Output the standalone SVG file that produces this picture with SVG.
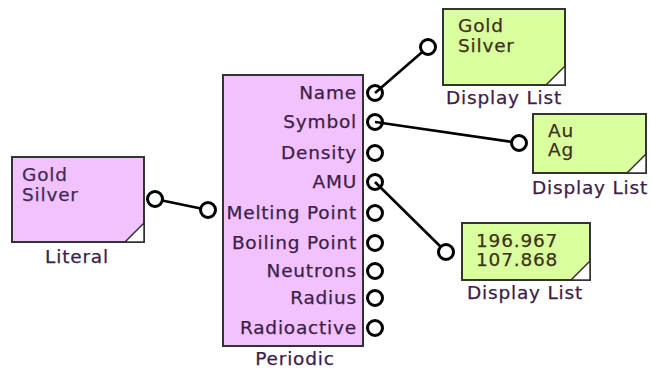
<svg xmlns="http://www.w3.org/2000/svg" width="651" height="368" viewBox="0 0 651 368">
<style>
text{font-family:"DejaVu Sans",Verdana,sans-serif;font-size:18.5px;letter-spacing:0.8px;fill:#3c2048;stroke:#3c2048;stroke-width:0.25}
.pink{fill:#f2c2ff;stroke:#333;stroke-width:2}
.green{fill:#d9ff9f;stroke:#333;stroke-width:2}
.fold{fill:#fff;stroke:#333;stroke-width:1.5}
.port{fill:#fff;stroke:#000;stroke-width:3}
.wire{stroke:#000;stroke-width:2.6;fill:none}
.r{text-anchor:end}
.c{text-anchor:middle}
.in{fill:#403018;stroke:#403018}
.lin{fill:#402a58;stroke:#402a58}
</style>
<g id="connectors">
<line class="wire" x1="155" y1="199" x2="208" y2="210"/>
<line class="wire" x1="375" y1="93" x2="428" y2="47"/>
<line class="wire" x1="375" y1="122" x2="519" y2="143"/>
<line class="wire" x1="375" y1="182" x2="446" y2="252"/>
</g>
<g id="literal">
<rect class="pink" x="12" y="157" width="132" height="85"/>
<path class="fold" d="M125 242 L144 242 L144 223 Z"/>
<text x="22" y="181" class="lin">Gold</text>
<text x="22" y="201" class="lin">Silver</text>
<text x="77" y="263" class="c">Literal</text>
<circle class="port" cx="155" cy="199" r="7.5"/>
</g>
<g id="periodic">
<rect class="pink" x="223" y="75" width="140" height="271"/>
<circle class="port" cx="208" cy="210" r="7.5"/>
<text x="357" y="99" class="r">Name</text>
<text x="357" y="128" class="r">Symbol</text>
<text x="357" y="159" class="r">Density</text>
<text x="357" y="188" class="r">AMU</text>
<text x="357" y="219" class="r">Melting Point</text>
<text x="357" y="249" class="r">Boiling Point</text>
<text x="357" y="277" class="r">Neutrons</text>
<text x="357" y="304" class="r">Radius</text>
<text x="357" y="334" class="r">Radioactive</text>
<circle class="port" cx="375" cy="93" r="7.5"/>
<circle class="port" cx="375" cy="122" r="7.5"/>
<circle class="port" cx="375" cy="153" r="7.5"/>
<circle class="port" cx="375" cy="182" r="7.5"/>
<circle class="port" cx="375" cy="213" r="7.5"/>
<circle class="port" cx="375" cy="243" r="7.5"/>
<circle class="port" cx="375" cy="271" r="7.5"/>
<circle class="port" cx="375" cy="298" r="7.5"/>
<circle class="port" cx="375" cy="328" r="7.5"/>
<line class="wire" x1="375" y1="93" x2="382" y2="87"/>
<line class="wire" x1="375" y1="122" x2="383" y2="123"/>
<line class="wire" x1="375" y1="182" x2="381" y2="188"/>
<text x="295" y="365" class="c">Periodic</text>
</g>
<g id="display1">
<rect class="green" x="443" y="9" width="122" height="76"/>
<path class="fold" d="M546 85 L565 85 L565 66 Z"/>
<text x="458" y="32" class="in">Gold</text>
<text x="458" y="52" class="in">Silver</text>
<text x="504" y="104" class="c">Display List</text>
<circle class="port" cx="428" cy="47" r="7.5"/>
</g>
<g id="display2">
<rect class="green" x="533" y="114" width="113" height="59"/>
<path class="fold" d="M627 173 L646 173 L646 154 Z"/>
<text x="548" y="137" class="in">Au</text>
<text x="548" y="156" class="in">Ag</text>
<text x="590" y="194" class="c">Display List</text>
<circle class="port" cx="519" cy="143" r="7.5"/>
</g>
<g id="display3">
<rect class="green" x="462" y="223" width="128" height="57"/>
<path class="fold" d="M571 280 L590 280 L590 261 Z"/>
<text x="476" y="247" class="in">196.967</text>
<text x="476" y="266" class="in">107.868</text>
<text x="525" y="299" class="c">Display List</text>
<circle class="port" cx="446" cy="252" r="7.5"/>
</g>
</svg>
